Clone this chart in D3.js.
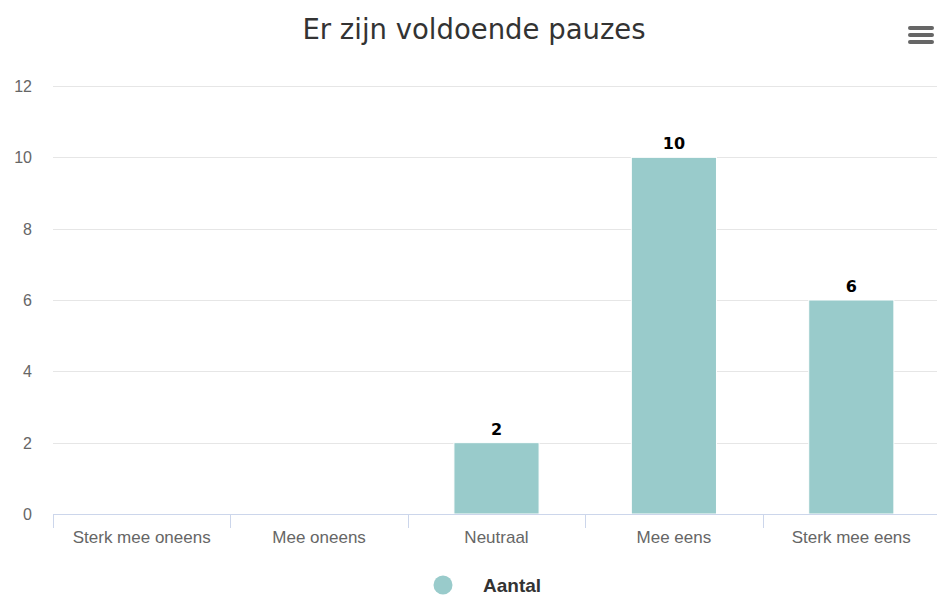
<!DOCTYPE html>
<html>
<head>
<meta charset="utf-8">
<script src="https://cdn.jsdelivr.net/npm/d3@7"></script>
<style>
  body { margin: 0; background: #fff; }
  svg { display: block; }
</style>
</head>
<body>
<div id="chart"></div>
<script>
const categories = ['Sterk mee oneens', 'Mee oneens', 'Neutraal', 'Mee eens', 'Sterk mee eens'];
const values = [0, 0, 2, 10, 6];
const yTicks = [0, 2, 4, 6, 8, 10, 12];
const seriesName = 'Aantal';
const title = 'Er zijn voldoende pauzes';

const W = 937, H = 597;
const BAR = '#99cbcb';

const svg = d3.select('#chart').append('svg')
  .attr('width', W).attr('height', H);

const x = d3.scaleBand().domain(categories).range([53, 940]).paddingInner(0.52).paddingOuter(0.26);
const y = d3.scaleLinear().domain([0, 12]).range([514, 86]);

// title
svg.append('text')
  .attr('x', 474).attr('y', 39)
  .attr('text-anchor', 'middle')
  .style('font-family', 'DejaVu Sans, sans-serif')
  .style('font-size', '27.5px')
  .attr('fill', '#333')
  .text(title);

// menu icon
[0, 1, 2].forEach(i => {
  svg.append('line')
    .attr('x1', 910).attr('x2', 932)
    .attr('y1', 28 + i * 7).attr('y2', 28 + i * 7)
    .attr('stroke', '#666').attr('stroke-width', 4).attr('stroke-linecap', 'round');
});

// gridlines
svg.append('g').selectAll('line').data(yTicks.filter(d => d > 0)).join('line')
  .attr('x1', 53).attr('x2', 937)
  .attr('y1', d => Math.round(y(d)) + 0.5).attr('y2', d => Math.round(y(d)) + 0.5)
  .attr('stroke', '#e6e6e6');

// y labels
svg.append('g').selectAll('text').data(yTicks).join('text')
  .attr('x', 32).attr('y', d => y(d) + 6)
  .attr('text-anchor', 'end')
  .style('font-family', 'Liberation Sans, Arial, sans-serif')
  .style('font-size', '16px')
  .attr('fill', '#666')
  .text(d => d);

// bars
svg.append('g').selectAll('rect').data(values).join('rect')
  .attr('x', (d, i) => x(categories[i]))
  .attr('y', d => y(d))
  .attr('width', x.bandwidth())
  .attr('height', d => y(0) - y(d))
  .attr('fill', BAR)
  .attr('stroke', '#fff').attr('stroke-width', 1);

// data labels
svg.append('g').selectAll('text').data(values.map((v, i) => ({ v, c: categories[i] })).filter(d => d.v > 0)).join('text')
  .attr('x', d => x(d.c) + x.bandwidth() / 2)
  .attr('y', d => y(d.v) - 8)
  .attr('text-anchor', 'middle')
  .style('font-family', 'DejaVu Sans, sans-serif')
  .style('font-size', '16px')
  .style('font-weight', 'bold')
  .attr('fill', '#000')
  .text(d => d.v);

// x axis line and ticks
const step = x.step();
const x0 = 53;
svg.append('line')
  .attr('x1', x0).attr('x2', 937).attr('y1', 514.5).attr('y2', 514.5)
  .attr('stroke', '#ccd6eb');
svg.append('g').selectAll('line').data(d3.range(categories.length + 1)).join('line')
  .attr('x1', i => Math.round(x0 + i * step) + 0.5).attr('x2', i => Math.round(x0 + i * step) + 0.5)
  .attr('y1', 514).attr('y2', 528)
  .attr('stroke', '#ccd6eb');

// x labels
svg.append('g').selectAll('text').data(categories).join('text')
  .attr('x', d => x(d) + x.bandwidth() / 2)
  .attr('y', 543)
  .attr('text-anchor', 'middle')
  .style('font-family', 'Liberation Sans, Arial, sans-serif')
  .style('font-size', '17px')
  .attr('fill', '#666')
  .text(d => d);

// legend
svg.append('circle').attr('cx', 443).attr('cy', 585).attr('r', 9.5).attr('fill', BAR);
svg.append('text')
  .attr('x', 483).attr('y', 592)
  .style('font-family', 'Liberation Sans, Arial, sans-serif')
  .style('font-size', '19px')
  .style('font-weight', 'bold')
  .attr('fill', '#333')
  .text(seriesName);
</script>
</body>
</html>
